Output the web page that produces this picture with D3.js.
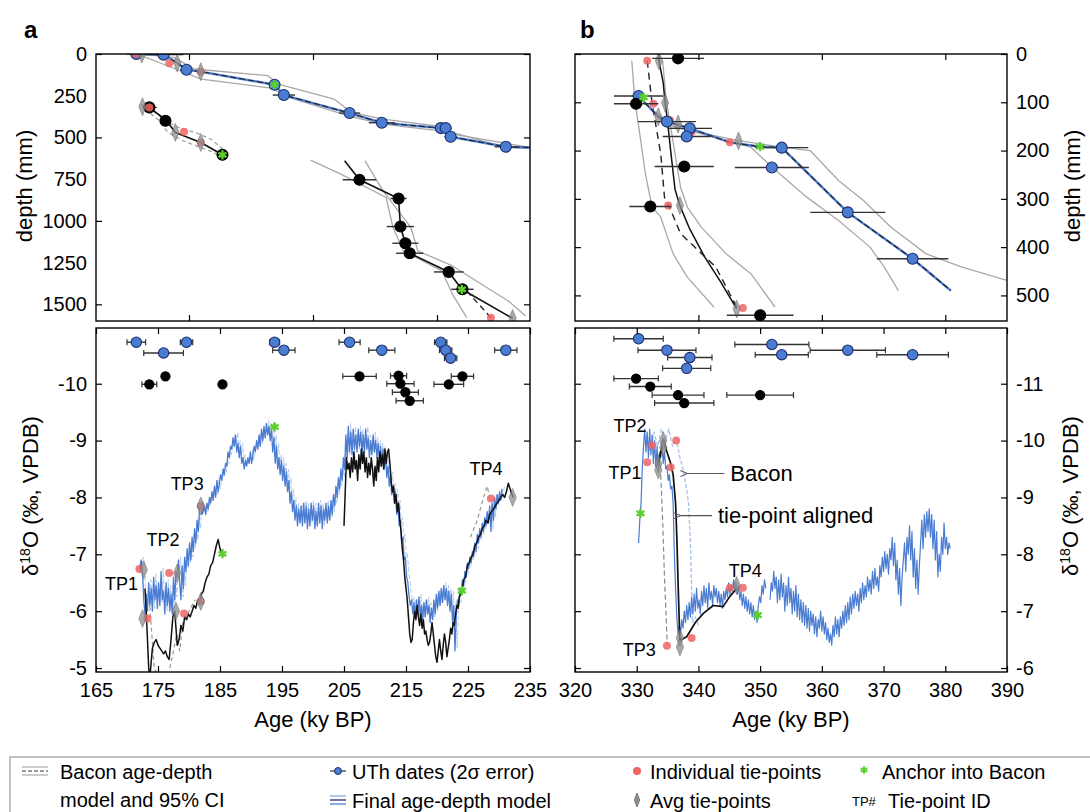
<!DOCTYPE html>
<html><head><meta charset="utf-8">
<script src="https://cdn.jsdelivr.net/npm/d3@7"></script>
<style>
body{margin:0;background:#fff;}
svg{display:block;font-family:"Liberation Sans",Arial,Helvetica,sans-serif;}
</style></head><body>
<svg id="chart" width="1090" height="812"></svg>
<script>
// ---------------- axis ticks ----------------
const ageTicksA = [165,175,185,195,205,215,225,235];
const ageTicksB = [320,330,340,350,360,370,380,390];
const ageMinorA = [180,200,220];
const ageMinorB = [340,360,380];
const depthLabelsA = [0,250,500,750,1000,1250,1500];
const depthMarksA = [0,500,1000,1500];
const depthTicksB = [0,100,200,300,400,500];
const isoTicksA = [-10,-9,-8,-7,-6,-5];
const isoTicksB = [-11,-10,-9,-8,-7,-6];

// ---------------- U-Th dates: [age, 2σ, depth, plotting row] ----------------
const uthBlueA = [[171.5,1.5,0,-10.73],[175.9,3.2,4,-10.54],[179.6,1.0,94,-10.73],[193.8,0.8,184,-10.73],[195.3,1.8,246,-10.59],[205.9,1.7,354,-10.73],[211.1,2.1,412,-10.59],[220.6,1.0,444,-10.73],[221.4,1.0,444,-10.59],[222.2,1.0,496,-10.45],[231.1,1.8,556,-10.59]];
const uthBlackA = [[173.6,1.2,320,-9.99],[176.2,0.3,400,-10.13],[185.4,0.2,604,-9.99],[207.5,2.7,754,-10.13],[213.8,1.3,866,-10.14],[214.1,2.2,1034,-10.0],[214.9,2.1,1134,-9.85],[215.6,2.2,1194,-9.70],[221.9,2.4,1306,-9.99],[224.1,1.8,1410,-10.13]];
const uthBlueB = [[330.3,4.0,87,-11.79],[334.9,4.7,140,-11.59],[338.6,3.6,154,-11.46],[338.1,3.9,171,-11.27],[351.9,6.0,235,-11.69],[353.5,4.3,194,-11.51],[364.2,6.1,328,-11.59],[374.7,5.8,424,-11.51]];
const uthBlackB = [[336.7,4.2,9,-10.80],[329.9,3.6,103,-11.09],[337.7,4.8,233,-10.66],[332.2,3.4,316,-10.95],[350.0,5.4,541,-10.80]];

// ---------------- tie-points and anchors ----------------
const tieRedA_depth = [[171.5,0],[176.8,56],[181.9,106],[173.6,320],[179.2,466],[181.9,530],[228.7,1580]];
const tieAvgA_depth = [[172.4,0],[178.1,54],[181.9,106],[172.5,316],[177.8,470],[181.9,530],[232.2,1584]];
const anchorA_depth = [[193.8,184],[185.4,604],[224.0,1410]];
const tieRedA_iso = [[172.0,-6.74],[173.3,-5.87],[176.8,-6.67],[179.2,-5.96],[181.9,-7.85],[181.9,-6.17],[228.7,-7.98]];
const tieAvgA_iso = [[172.7,-6.73],[172.5,-5.87],[178.1,-6.67],[177.9,-6.0],[181.9,-7.85],[181.9,-6.17],[232.2,-8.0]];
const anchorA_iso = [[193.8,-9.24],[185.4,-7.01],[224.0,-6.36]];

const tieRedB_depth = [[331.7,14],[332.7,103],[335.4,137],[338.9,161],[345.1,183],[335.1,314],[347.2,526]];
const tieAvgB_depth = [[333.6,14],[334.6,101],[333.5,130],[336.7,145],[346.5,180],[337.0,314],[346.2,528]];
const anchorB_depth = [[331.1,90],[350.0,192]];
const tieRedB_iso = [[332.5,-9.92],[336.4,-10.0],[331.7,-9.62],[335.5,-9.53],[334.9,-6.39],[338.9,-6.53],[345.1,-7.41],[347.2,-7.41]];
const tieAvgB_iso = [[334.3,-10.0],[334.3,-9.88],[333.5,-9.59],[333.5,-9.48],[337.0,-6.53],[337.0,-6.37],[346.2,-7.45]];
const anchorB_iso = [[330.6,-8.72],[349.6,-6.93]];

// ---------------- age-depth models (age, depth) ----------------
const modelA_upper = [[171.5,0],[175.9,4],[178.1,54],[179.6,94],[181.9,106],[193.8,184],[195.3,246],[205.9,354],[211.1,412],[220.6,444],[222.2,496],[231.1,556],[235,560]];
const ciA_upper1 = [[172.4,0],[177.5,20],[180.9,90],[192.7,130],[194.4,180],[203.4,270],[206.2,350],[211.3,390],[220.8,436],[222.5,480],[235,560]];
const ciA_upper2 = [[171.0,0],[173.0,20],[175.8,60],[182.0,150],[193.2,204],[196.1,260],[205.6,370],[211.3,420],[222.5,470],[230.9,560],[235,566]];
const modelA_mid = [[172.9,308],[173.6,320],[176.4,400],[177.8,470],[181.9,530],[185.4,604]];
const ciA_mid1 = [[172.2,300],[174.6,352],[176.6,410],[178.6,445],[181.0,470],[183.5,510],[185.2,560],[186.2,600]];
const ciA_mid2 = [[172.9,330],[175.0,392],[176.6,470],[179.0,520],[181.5,555],[184.0,590],[185.6,625]];
const modelA_low = [[205.1,640],[207.5,754],[213.8,866],[214.1,1034],[214.9,1134],[215.6,1194],[221.9,1306],[224.0,1410],[232.2,1584]];
const ciA_low1 = [[199.6,636],[204.5,720],[211.8,860],[212.9,1040],[214.6,1180],[220.8,1300],[222.5,1440],[224.8,1580]];
const ciA_low2 = [[208.4,640],[211.3,820],[215.8,1040],[216.9,1180],[222.5,1270],[231.5,1480],[234.3,1570]];
const baconA_low = [[224.8,1420],[226.5,1490],[228.7,1580]];

const alignedB = [[333.6,0],[333.6,14],[334.3,60],[334.6,101],[335.0,140],[335.5,200],[336.2,280],[337.0,314],[338.5,360],[341.0,420],[343.5,470],[346.2,528]];
const baconB = [[331.7,14],[332.5,103],[333.9,207],[334.5,297],[335.3,317],[337.1,372],[342.8,441],[346.2,524]];
const ciB1 = [[329.2,14],[329.7,97],[330.5,166],[331.4,248],[332.5,317],[333.9,338],[335.9,414],[338.2,462],[342.5,524]];
const ciB2 = [[334.2,14],[334.8,97],[337.1,276],[338.2,317],[340.5,359],[344.5,414],[348.5,455],[352.4,524]];
const modelB_upper = [[330.3,87],[333.5,130],[334.9,140],[338.6,154],[345.1,183],[350.0,192],[353.5,194],[364.2,328],[374.7,424],[380.9,490]];
const ciB_upper1 = [[334.8,148],[346.2,179],[353.6,193],[358.1,200],[362.7,262],[366.7,303],[371.2,359],[376.9,414],[382.6,441],[390,469]];
const ciB_upper2 = [[331.0,100],[336.0,150],[348.5,193],[351.9,234],[357.6,297],[362.7,345],[367.8,400],[370.1,441],[372.4,490]];

// ---------------- δ18O records (age, ‰) ----------------
const isoBlueA = [[172.0,-6.75],[172.3,-6.9],[172.5,-6.7],[172.7,-6.2],[172.9,-5.95],[173.1,-6.3],[173.3,-6.0],[173.5,-6.5],[173.7,-6.1],[173.9,-6.4],[174.1,-6.0],[174.3,-6.6],[174.5,-6.2],[174.7,-6.45],[174.9,-6.05],[175.1,-6.5],[175.3,-6.1],[175.5,-6.7],[175.7,-6.2],[175.9,-6.35],[176.1,-5.95],[176.3,-6.5],[176.5,-6.1],[176.7,-6.4],[176.9,-6.0],[177.1,-6.3],[177.3,-5.95],[177.5,-6.6],[177.7,-6.2],[177.9,-6.7],[178.1,-6.6],[178.3,-6.9],[178.5,-6.5],[178.7,-6.2],[178.9,-6.8],[179.1,-6.4],[179.3,-6.95],[179.5,-6.7],[179.7,-7.1],[179.9,-6.8],[180.1,-7.2],[180.3,-6.9],[180.5,-7.3],[180.7,-7.05],[180.9,-7.45],[181.1,-7.2],[181.3,-7.6],[181.5,-7.4],[181.7,-7.8],[181.9,-7.9],[182.1,-7.7],[182.3,-7.75],[182.5,-7.85],[182.7,-7.7],[182.9,-7.9],[183.1,-7.8],[183.3,-8.0],[183.5,-7.9],[183.7,-8.1],[183.9,-7.95],[184.1,-8.2],[184.3,-8.0],[184.5,-8.3],[184.7,-8.1],[184.9,-8.25],[185.1,-8.4],[185.3,-8.3],[185.5,-8.5],[185.7,-8.4],[185.9,-8.6],[186.1,-8.55],[186.3,-8.8],[186.5,-8.7],[186.7,-8.9],[186.9,-8.85],[187.1,-9.05],[187.3,-8.9],[187.5,-9.1],[187.7,-8.8],[187.9,-8.95],[188.1,-8.7],[188.3,-8.9],[188.5,-8.6],[188.7,-8.7],[188.9,-8.5],[189.1,-8.65],[189.3,-8.55],[189.5,-8.7],[189.7,-8.6],[189.9,-8.8],[190.1,-8.6],[190.3,-8.75],[190.5,-8.9],[190.7,-8.8],[190.9,-9.0],[191.1,-8.85],[191.3,-9.1],[191.5,-8.9],[191.7,-9.2],[191.9,-9.0],[192.1,-9.25],[192.3,-9.05],[192.5,-9.3],[192.7,-9.1],[192.9,-9.25],[193.1,-9.0],[193.3,-9.2],[193.5,-8.8],[193.7,-9.05],[193.9,-8.6],[194.1,-8.9],[194.3,-8.5],[194.5,-8.7],[194.7,-8.4],[194.9,-8.65],[195.1,-8.3],[195.3,-8.55],[195.5,-8.2],[195.7,-8.45],[195.9,-8.1],[196.1,-8.3],[196.3,-7.9],[196.5,-8.1],[196.7,-7.75],[196.9,-7.95],[197.1,-7.6],[197.3,-7.85],[197.5,-7.5],[197.7,-7.8],[197.9,-7.55],[198.1,-7.85],[198.3,-7.5],[198.5,-7.9],[198.7,-7.55],[198.9,-7.85],[199.1,-7.45],[199.3,-7.8],[199.5,-7.5],[199.7,-7.9],[199.9,-7.6],[200.1,-7.85],[200.3,-7.45],[200.5,-7.75],[200.7,-7.5],[200.9,-7.9],[201.1,-7.55],[201.3,-7.85],[201.5,-7.45],[201.7,-7.8],[201.9,-7.6],[202.1,-7.9],[202.3,-7.55],[202.5,-7.85],[202.7,-7.6],[202.9,-7.95],[203.1,-7.7],[203.3,-8.05],[203.5,-7.85],[203.7,-8.2],[203.9,-8.0],[204.1,-8.35],[204.3,-8.15],[204.5,-8.5],[204.7,-8.3],[204.9,-8.7],[205.1,-8.5],[205.3,-9.1],[205.5,-8.7],[205.7,-9.25],[205.9,-8.8],[206.1,-9.15],[206.3,-8.75],[206.5,-9.2],[206.7,-8.85],[206.9,-9.1],[207.1,-8.8],[207.3,-9.2],[207.5,-8.9],[207.7,-9.15],[207.9,-8.75],[208.1,-9.1],[208.3,-8.8],[208.5,-9.2],[208.7,-8.85],[208.9,-9.05],[209.1,-8.7],[209.3,-9.0],[209.5,-8.75],[209.7,-9.1],[209.9,-8.8],[210.1,-9.0],[210.3,-8.7],[210.5,-8.95],[210.7,-8.65],[210.9,-8.9],[211.1,-8.6],[211.3,-8.85],[211.5,-8.5],[211.7,-8.75],[211.9,-8.35],[212.1,-8.55],[212.3,-8.2],[212.5,-8.4],[212.7,-8.05],[212.9,-8.2],[213.1,-7.9],[213.3,-8.1],[213.5,-7.7],[213.7,-7.9],[213.9,-7.5],[214.1,-7.6],[214.3,-7.2],[214.5,-7.3],[214.7,-6.9],[214.9,-6.95],[215.1,-6.6],[215.3,-6.5],[215.5,-6.25],[215.7,-6.1],[215.9,-6.2],[216.1,-5.95],[216.3,-6.15],[216.5,-5.9],[216.7,-6.2],[216.9,-5.95],[217.1,-6.25],[217.3,-5.9],[217.5,-6.1],[217.7,-5.85],[217.9,-6.15],[218.1,-5.9],[218.3,-6.2],[218.5,-5.95],[218.7,-6.1],[218.9,-5.8],[219.1,-6.05],[219.3,-5.85],[219.5,-6.2],[219.7,-5.95],[219.9,-6.3],[220.1,-6.05],[220.3,-6.35],[220.5,-6.1],[220.7,-6.4],[220.9,-6.15],[221.1,-6.45],[221.3,-6.2],[221.5,-6.4],[221.7,-6.1],[221.9,-6.35],[222.1,-6.0],[222.3,-6.3],[222.5,-5.8],[222.7,-6.1],[222.9,-5.3],[223.1,-5.9],[223.3,-6.2],[223.5,-6.1],[223.7,-6.4],[223.9,-6.3],[224.1,-6.55],[224.3,-6.45],[224.5,-6.7],[224.7,-6.6],[224.9,-6.85],[225.1,-6.75],[225.3,-6.95],[225.5,-6.85],[225.7,-7.05],[225.9,-6.95],[226.1,-7.2],[226.3,-7.05],[226.5,-7.35],[226.7,-7.2],[226.9,-7.45],[227.1,-7.3],[227.3,-7.55],[227.5,-7.4],[227.7,-7.65],[227.9,-7.5],[228.1,-7.75],[228.3,-7.55],[228.5,-7.85],[228.7,-7.4],[228.9,-7.9],[229.1,-7.6],[229.3,-8.0],[229.5,-7.8],[229.7,-8.05],[229.9,-7.9],[230.1,-8.1],[230.3,-7.95],[230.5,-8.15]];

const isoBlackA1 = [[172.9,-6.4],[173.1,-6.0],[173.3,-5.5],[173.5,-5.0],[173.7,-4.85],[173.9,-5.1],[174.1,-5.35],[174.4,-5.45],[174.7,-5.5],[175.0,-5.4],[175.3,-5.35],[175.6,-5.3],[175.9,-5.25],[176.2,-5.3],[176.5,-5.2],[176.8,-5.15],[177.1,-5.5],[177.4,-5.9],[177.7,-6.0],[177.9,-5.7],[178.1,-5.4],[178.4,-5.5],[178.7,-5.75],[179.0,-5.65],[179.3,-5.9],[179.6,-5.85],[179.9,-5.95],[180.2,-5.9],[180.5,-6.0],[180.8,-6.1],[181.1,-6.05],[181.4,-6.2],[181.7,-6.15],[182.0,-6.3],[182.3,-6.35],[182.6,-6.5],[182.9,-6.6],[183.2,-6.65],[183.5,-6.8],[183.8,-6.85],[184.1,-7.0],[184.4,-7.15],[184.7,-7.26],[185.0,-7.1],[185.4,-7.0]];
const isoBlackA2 = [[205.0,-7.5],[205.2,-8.1],[205.4,-8.7],[205.6,-8.5],[205.8,-8.6],[206.0,-8.35],[206.2,-8.7],[206.4,-8.45],[206.6,-8.8],[206.8,-8.5],[207.0,-8.65],[207.2,-8.3],[207.4,-8.75],[207.6,-8.5],[207.8,-8.85],[208.0,-8.6],[208.2,-8.8],[208.4,-8.45],[208.6,-8.7],[208.8,-8.35],[209.0,-8.6],[209.2,-8.4],[209.4,-8.7],[209.6,-8.5],[209.8,-8.2],[210.0,-8.55],[210.2,-8.3],[210.4,-8.7],[210.6,-8.45],[210.8,-8.8],[211.0,-8.55],[211.2,-8.75],[211.4,-8.5],[211.6,-8.85],[211.8,-8.6],[212.0,-8.8],[212.2,-8.85],[212.4,-8.6],[212.6,-8.3],[212.8,-8.1],[213.0,-8.2],[213.2,-7.9],[213.4,-8.05],[213.6,-7.75],[213.8,-7.9],[214.0,-7.6],[214.2,-7.4],[214.4,-7.1],[214.6,-6.9],[214.8,-6.6],[215.0,-6.4],[215.2,-6.2],[215.4,-5.9],[215.6,-5.6],[215.8,-5.45],[216.0,-5.5],[216.2,-5.8],[216.4,-6.0],[216.6,-5.85],[216.8,-6.1],[217.0,-5.9],[217.2,-5.75],[217.4,-5.95],[217.6,-5.7],[217.8,-5.85],[218.0,-5.6],[218.2,-5.65],[218.4,-5.5],[218.6,-5.4],[218.8,-5.45],[219.0,-5.6],[219.2,-5.8],[219.4,-5.6],[219.6,-5.4],[219.8,-5.2],[220.0,-5.1],[220.2,-5.3],[220.4,-5.5],[220.6,-5.3],[220.8,-5.15],[221.0,-5.4],[221.2,-5.6],[221.4,-5.45],[221.6,-5.2],[221.8,-5.35],[222.0,-5.5],[222.2,-5.7],[222.4,-5.6],[222.6,-5.8],[222.8,-5.75],[223.0,-5.95],[223.2,-6.1],[223.4,-6.05],[223.6,-6.25],[223.8,-6.3],[224.0,-6.35],[224.3,-6.55],[224.6,-6.6],[224.9,-6.8],[225.2,-6.85],[225.5,-6.95],[225.8,-7.0],[226.1,-7.15],[226.4,-7.2],[226.7,-7.3],[227.0,-7.35],[227.3,-7.45],[227.6,-7.5],[227.9,-7.6],[228.2,-7.55],[228.5,-7.7],[228.8,-7.75],[229.1,-7.8],[229.4,-7.85],[229.7,-7.9],[230.0,-7.95],[230.3,-8.0],[230.6,-8.05],[230.9,-8.0],[231.2,-8.1],[231.5,-8.25],[231.8,-8.15],[232.1,-8.05],[232.3,-8.0]];
const baconIsoA1 = [[173.6,-6.2],[174.0,-5.6],[174.4,-5.0],[174.8,-4.9]];
const baconIsoA2 = [[176.9,-5.0],[177.5,-5.3],[178.0,-5.6],[178.5,-5.3],[179.0,-5.8],[180.0,-6.0],[181.0,-6.2]];
const baconIsoA3 = [[225.4,-7.3],[226.5,-7.6],[227.5,-8.0],[228.1,-8.2],[228.4,-8.05]];

const isoBlueB = [[330.3,-8.2],[330.5,-8.6],[330.7,-8.9],[330.9,-9.5],[331.1,-9.9],[331.3,-10.2],[331.5,-9.8],[331.7,-10.15],[331.9,-9.7],[332.1,-10.2],[332.3,-9.75],[332.5,-10.1],[332.7,-9.6],[332.9,-10.0],[333.1,-9.55],[333.3,-9.9],[333.5,-9.45],[333.7,-9.8],[333.9,-9.7],[334.1,-9.9],[334.3,-9.6],[334.5,-9.8],[334.7,-9.5],[334.9,-9.55],[335.1,-9.3],[335.3,-9.4],[335.5,-9.15],[335.7,-9.2],[335.9,-8.9],[336.1,-8.0],[336.3,-7.4],[336.5,-6.9],[336.7,-6.6],[336.9,-6.75],[337.1,-6.6],[337.3,-6.85],[337.5,-6.7],[337.7,-7.0],[337.9,-6.8],[338.1,-7.1],[338.3,-6.85],[338.5,-7.15],[338.7,-6.9],[338.9,-7.25],[339.1,-6.95],[339.3,-7.3],[339.5,-7.0],[339.7,-7.4],[339.9,-7.05],[340.1,-7.2],[340.3,-6.95],[340.5,-7.35],[340.7,-7.1],[340.9,-7.45],[341.1,-7.15],[341.3,-7.4],[341.5,-7.05],[341.7,-7.5],[341.9,-7.2],[342.1,-7.35],[342.3,-7.1],[342.5,-7.45],[342.7,-7.25],[342.9,-7.4],[343.1,-7.15],[343.3,-7.35],[343.5,-7.1],[343.7,-7.3],[343.9,-7.05],[344.1,-7.35],[344.3,-7.2],[344.5,-7.4],[344.7,-7.25],[344.9,-7.5],[345.1,-7.3],[345.3,-7.45],[345.5,-7.35],[345.7,-7.55],[345.9,-7.4],[346.1,-7.5],[346.3,-7.3],[346.5,-7.45],[346.7,-7.2],[346.9,-7.35],[347.1,-7.1],[347.3,-7.3],[347.5,-7.05],[347.7,-7.25],[347.9,-7.0],[348.1,-7.2],[348.3,-6.95],[348.5,-7.15],[348.7,-6.9],[348.9,-7.1],[349.1,-6.85],[349.3,-7.0],[349.5,-6.8],[349.7,-7.1],[349.9,-7.25],[350.1,-7.15],[350.3,-7.45],[350.5,-7.3],[350.7,-7.55],[350.9,-7.4]];
const isoBlueB2 = [[351.6,-7.2],[351.8,-7.5],[352.0,-7.35],[352.2,-7.7],[352.4,-7.4],[352.6,-7.6],[352.8,-7.15],[353.0,-7.55],[353.2,-7.2],[353.4,-7.65],[353.6,-7.25],[353.8,-7.5],[354.0,-7.0],[354.2,-7.45],[354.4,-7.1],[354.6,-7.6],[354.8,-7.15],[355.0,-7.4],[355.2,-6.95],[355.4,-7.35],[355.6,-7.0],[355.8,-7.45],[356.0,-6.9],[356.2,-7.3],[356.4,-6.85],[356.6,-7.2],[356.8,-6.8],[357.0,-7.15],[357.2,-6.75],[357.4,-7.1],[357.6,-6.7],[357.8,-7.05],[358.0,-6.65],[358.2,-7.0],[358.4,-6.75],[358.6,-6.95],[358.8,-6.6],[359.0,-6.9],[359.2,-6.55],[359.4,-6.85],[359.6,-6.7],[359.8,-7.0],[360.0,-6.65],[360.2,-6.9],[360.4,-6.6],[360.6,-6.8],[360.8,-6.5],[361.0,-6.7],[361.2,-6.45],[361.4,-6.6],[361.6,-6.4],[361.8,-6.75],[362.0,-6.55],[362.2,-6.9],[362.4,-6.6],[362.6,-6.85],[362.8,-6.55],[363.0,-6.9],[363.2,-6.7],[363.4,-7.0],[363.6,-6.75],[363.8,-7.1],[364.0,-6.8],[364.2,-7.15],[364.4,-6.85],[364.6,-7.25],[364.8,-6.95],[365.0,-7.3],[365.2,-7.05],[365.4,-7.35],[365.6,-7.1],[365.8,-7.3],[366.0,-7.0],[366.2,-7.4],[366.4,-7.15],[366.6,-7.5],[366.8,-7.2],[367.0,-7.45],[367.2,-7.25],[367.4,-7.6],[367.6,-7.35],[367.8,-7.55],[368.0,-7.3],[368.2,-7.7],[368.4,-7.4],[368.6,-7.75],[368.8,-7.45],[369.0,-7.6],[369.2,-7.35],[369.4,-7.8],[369.6,-7.6],[369.8,-7.95],[370.0,-7.7],[370.2,-8.05],[370.4,-7.75],[370.6,-8.0],[370.8,-7.65],[371.0,-8.1],[371.2,-7.9],[371.4,-8.3],[371.6,-7.8],[371.8,-8.2],[372.0,-7.55],[372.2,-7.9],[372.4,-7.3],[372.6,-7.75],[372.8,-7.1],[373.0,-7.6],[373.2,-7.9],[373.4,-8.2],[373.6,-7.7],[373.8,-8.3],[374.0,-8.0],[374.2,-8.5],[374.4,-7.9],[374.6,-8.4],[374.8,-7.6],[375.0,-8.1],[375.2,-7.4],[375.4,-7.9],[375.6,-7.3],[375.8,-7.8],[376.0,-8.2],[376.2,-8.6],[376.4,-8.1],[376.6,-8.7],[376.8,-8.3],[377.0,-8.75],[377.2,-8.4],[377.4,-8.8],[377.6,-8.3],[377.8,-8.7],[378.0,-8.1],[378.2,-8.6],[378.4,-7.9],[378.6,-8.4],[378.8,-7.6],[379.0,-8.0],[379.2,-7.7],[379.4,-8.3],[379.6,-8.0],[379.8,-8.55],[380.0,-8.1],[380.2,-8.3],[380.4,-8.0],[380.6,-8.2],[380.8,-8.1]];
const isoAlignedB = [[333.5,-9.59],[333.9,-9.8],[334.3,-10.0],[334.9,-9.8],[335.5,-9.6],[335.9,-9.4],[336.3,-8.9],[336.5,-8.3],[336.7,-7.5],[336.9,-6.8],[337.0,-6.49],[338.1,-6.55],[339.5,-6.8],[340.8,-6.96],[342.4,-7.1],[344.0,-7.08],[345.1,-7.26],[346.2,-7.4]];
const baconIsoB_blue = [[331.6,-10.1],[332.2,-9.8],[332.8,-10.15],[333.4,-9.9],[334.0,-10.2],[334.6,-10.0],[335.2,-10.2],[335.8,-9.9],[336.4,-10.05],[337.0,-9.7],[337.5,-9.5],[338.0,-9.2],[338.4,-8.9],[338.7,-8.2],[338.9,-7.4],[339.0,-6.8],[339.5,-6.9],[340.0,-6.75]];
const baconIsoB_gray = [[333.9,-9.4],[334.2,-8.6],[334.5,-7.6],[334.8,-6.8],[334.95,-6.4]];

// ---------------- labels ----------------
const tpLabelsA = [["TP1",169.1,-6.49],["TP2",175.8,-7.26],["TP3",179.7,-8.24],["TP4",227.9,-8.5]];
const tpLabelsB = [["TP2",328.9,-10.27],["TP1",328.1,-9.44],["TP3",330.4,-6.33],["TP4",347.6,-7.72]];

// ---------------- layout ----------------
const svg = d3.select("#chart");
const topY = [54, 321], botY = [328, 672];
const colA = [96, 530], colB = [575, 1007];

const xA = d3.scaleLinear().domain([165,235]).range(colA);
const xB = d3.scaleLinear().domain([320,390]).range(colB);
const yDA = d3.scaleLinear().domain([0,1600]).range(topY);
const yDB = d3.scaleLinear().domain([0,553]).range(topY);
const yIA = d3.scaleLinear().domain([-10.98,-4.93]).range(botY);
const yIB = d3.scaleLinear().domain([-11.98,-5.93]).range(botY);

const C = {
  blue: "#4a7cd2", blueEdge: "#1c2f6e", blueLight: "#a9c0ec",
  black: "#111", gray: "#a8a8a8", red: "#f06464", green: "#5ccf2e",
  diamond: "#8e8e8e"
};
const FS = 20;      // tick labels
const FT = 22;      // axis titles

const defs = svg.append("defs");
function clip(id, x, y) {
  defs.append("clipPath").attr("id", id).append("rect")
    .attr("x", x.range()[0]).attr("y", y.range()[0])
    .attr("width", x.range()[1]-x.range()[0]).attr("height", y.range()[1]-y.range()[0]);
}
clip("cAT", xA, yDA); clip("cAB", xA, yIA); clip("cBT", xB, yDB); clip("cBB", xB, yIB);
const marker = defs.append("marker").attr("id","arrow").attr("viewBox","0 0 10 10")
  .attr("refX",1).attr("refY",5).attr("markerWidth",7).attr("markerHeight",7).attr("orient","auto-start-reverse");
marker.append("path").attr("d","M10,1 L1,5 L10,9").attr("fill","none").attr("stroke","#555").attr("stroke-width",1.3);

const fmt = d => String(d);

function styleAxis(g) {
  g.select(".domain").remove();
  g.selectAll(".tick line").attr("stroke", "#000").attr("stroke-width", 1.2);
  g.selectAll(".tick text").attr("font-size", FS).attr("fill", "#000")
    .attr("font-family", "Liberation Sans, Arial, sans-serif");
}

function panelAxes(x, y, opts) {
  const [x0, x1] = x.range(), [y0, y1] = y.range();
  const g = svg.append("g");
  // top/bottom x ticks (inward)
  g.append("g").attr("transform", `translate(0,${y0})`)
    .call(d3.axisTop(x).tickValues(opts.xTicks).tickSize(-6).tickFormat("")).call(styleAxis);
  g.append("g").attr("transform", `translate(0,${y1})`)
    .call(d3.axisBottom(x).tickValues(opts.xTicks).tickSize(-6).tickPadding(11)
      .tickFormat(opts.xLabels ? fmt : "")).call(styleAxis);
  // left/right y tick marks
  g.append("g").attr("transform", `translate(${x0},0)`)
    .call(d3.axisLeft(y).tickValues(opts.yMarks).tickSize(-6).tickFormat("")).call(styleAxis);
  g.append("g").attr("transform", `translate(${x1},0)`)
    .call(d3.axisRight(y).tickValues(opts.yMarks).tickSize(-6).tickFormat("")).call(styleAxis);
  // y labels
  if (opts.yLabelSide === "left") {
    g.append("g").attr("transform", `translate(${x0},0)`)
      .call(d3.axisLeft(y).tickValues(opts.yLabels).tickSize(0).tickPadding(9).tickFormat(fmt)).call(styleAxis);
  } else if (opts.yLabelSide === "right") {
    g.append("g").attr("transform", `translate(${x1},0)`)
      .call(d3.axisRight(y).tickValues(opts.yLabels).tickSize(0).tickPadding(9).tickFormat(fmt)).call(styleAxis);
  }
  g.append("rect").attr("x", x0).attr("y", y0).attr("width", x1-x0).attr("height", y1-y0)
    .attr("fill", "none").attr("stroke", "#000").attr("stroke-width", 1.4);
}

function drawLine(g, data, x, y, stroke, width, dash, opacity) {
  g.append("path").datum(data)
    .attr("d", d3.line().x(d => x(d[0])).y(d => y(d[1])))
    .attr("fill", "none").attr("stroke", stroke).attr("stroke-width", width)
    .attr("stroke-dasharray", dash || null).attr("stroke-linejoin", "round")
    .attr("opacity", opacity == null ? 1 : opacity);
}
function redDots(g, data, x, y) {
  g.selectAll(null).data(data).join("circle")
    .attr("cx", d => x(d[0])).attr("cy", d => y(d[1])).attr("r", 4)
    .attr("fill", C.red).attr("opacity", 0.85);
}
function diamonds(g, data, x, y) {
  g.selectAll(null).data(data).join("path")
    .attr("d", d3.symbol(d3.symbolDiamond, 70))
    .attr("transform", d => `translate(${x(d[0])},${y(d[1])}) scale(0.8,1.15)`)
    .attr("fill", C.diamond).attr("stroke", "#666").attr("stroke-width", 0.8).attr("opacity", 0.75);
}
function stars(g, data, x, y) {
  g.selectAll(null).data(data).join("path")
    .attr("d", d3.symbol(d3.symbolAsterisk, 60))
    .attr("transform", d => `translate(${x(d[0])},${y(d[1])})`)
    .attr("fill", "none").attr("stroke", C.green).attr("stroke-width", 2.4);
}
function uth(g, data, x, yv, fill, edge, r, caps) {
  const gg = g.append("g");
  gg.selectAll(null).data(data).join("line")
    .attr("x1", d => x(d.age - d.err)).attr("x2", d => x(d.age + d.err))
    .attr("y1", d => yv(d)).attr("y2", d => yv(d))
    .attr("stroke", "#333").attr("stroke-width", 1.4);
  if (caps) {
    gg.selectAll(null).data(data.flatMap(d => [[d.age - d.err, yv(d)], [d.age + d.err, yv(d)]])).join("line")
      .attr("x1", d => x(d[0])).attr("x2", d => x(d[0]))
      .attr("y1", d => d[1] - 3).attr("y2", d => d[1] + 3)
      .attr("stroke", "#333").attr("stroke-width", 1.2);
  }
  gg.selectAll(null).data(data).join("circle")
    .attr("cx", d => x(d.age)).attr("cy", d => yv(d)).attr("r", r)
    .attr("fill", fill).attr("stroke", edge).attr("stroke-width", 1.1);
}
const asObj = arr => arr.map(d => ({age: d[0], err: d[1], depth: d[2], row: d[3]}));

// ================= Panel a, age-depth =================
{
  const g = svg.append("g").attr("clip-path", "url(#cAT)");
  [ciA_upper1, ciA_upper2, ciA_low1, ciA_low2].forEach(d => drawLine(g, d, xA, yDA, C.gray, 1.3));
  drawLine(g, ciA_mid1, xA, yDA, "#999", 1.2, "4,3");
  drawLine(g, ciA_mid2, xA, yDA, "#999", 1.2, "4,3");
  drawLine(g, modelA_upper, xA, yDA, C.blue, 2.4);
  drawLine(g, modelA_upper, xA, yDA, "#222", 1.1, "6,3");
  drawLine(g, modelA_mid, xA, yDA, C.black, 1.6);
  drawLine(g, modelA_low, xA, yDA, C.black, 1.6);
  drawLine(g, baconA_low, xA, yDA, "#222", 1.4, "6,4");
  uth(g, asObj(uthBlueA), xA, d => yDA(d.depth), C.blue, C.blueEdge, 5.5, false);
  uth(g, asObj(uthBlackA), xA, d => yDA(d.depth), "#000", "#000", 5.5, false);
  redDots(g, tieRedA_depth, xA, yDA);
  diamonds(g, tieAvgA_depth, xA, yDA);
  stars(g, anchorA_depth, xA, yDA);
}
panelAxes(xA, yDA, {xTicks: ageMinorA, xLabels: false, yMarks: depthMarksA, yLabels: depthLabelsA, yLabelSide: "left"});

// ================= Panel a, δ18O =================
{
  const g = svg.append("g").attr("clip-path", "url(#cAB)");
  [baconIsoA1, baconIsoA2, baconIsoA3].forEach(d => drawLine(g, d, xA, yIA, "#999", 1.2, "4,3"));
  drawLine(g, isoBlueA.map(d => [d[0] + 0.35, d[1] - 0.05]), xA, yIA, C.blueLight, 1.0, "5,2", 0.8);
  drawLine(g, isoBlueA, xA, yIA, C.blue, 1.3);
  drawLine(g, isoBlackA1, xA, yIA, C.black, 1.5);
  drawLine(g, isoBlackA2, xA, yIA, C.black, 1.5);
  redDots(g, tieRedA_iso, xA, yIA);
  diamonds(g, tieAvgA_iso, xA, yIA);
  stars(g, anchorA_iso, xA, yIA);
  uth(g, asObj(uthBlueA), xA, d => yIA(d.row), C.blue, C.blueEdge, 5.2, true);
  uth(g, asObj(uthBlackA), xA, d => yIA(d.row), "#000", "#000", 4.6, true);
  g.selectAll(null).data(tpLabelsA).join("text")
    .attr("x", d => xA(d[1])).attr("y", d => yIA(d[2])).attr("dy", "0.35em")
    .attr("text-anchor", "middle").attr("font-size", 18).text(d => d[0]);
}
panelAxes(xA, yIA, {xTicks: ageTicksA, xLabels: true, yMarks: isoTicksA, yLabels: isoTicksA, yLabelSide: "left"});

// ================= Panel b, age-depth =================
{
  const g = svg.append("g").attr("clip-path", "url(#cBT)");
  [ciB1, ciB2, ciB_upper1, ciB_upper2].forEach(d => drawLine(g, d, xB, yDB, C.gray, 1.3));
  drawLine(g, baconB, xB, yDB, "#222", 1.4, "7,5");
  drawLine(g, alignedB, xB, yDB, C.black, 1.5);
  drawLine(g, modelB_upper, xB, yDB, C.blue, 2.4);
  drawLine(g, modelB_upper, xB, yDB, "#222", 1.1, "6,3");
  redDots(g, tieRedB_depth, xB, yDB);
  diamonds(g, tieAvgB_depth, xB, yDB);
  uth(g, asObj(uthBlueB), xB, d => yDB(d.depth), C.blue, C.blueEdge, 5.5, false);
  uth(g, asObj(uthBlackB), xB, d => yDB(d.depth), "#000", "#000", 5.5, false);
  stars(g, anchorB_depth, xB, yDB);
}
panelAxes(xB, yDB, {xTicks: ageMinorB, xLabels: false, yMarks: depthTicksB, yLabels: depthTicksB, yLabelSide: "right"});

// ================= Panel b, δ18O =================
{
  const g = svg.append("g").attr("clip-path", "url(#cBB)");
  drawLine(g, baconIsoB_blue, xB, yIB, C.blueLight, 1.3, "4,2");
  drawLine(g, baconIsoB_gray, xB, yIB, "#888", 1.2, "5,3");
  drawLine(g, isoBlueB, xB, yIB, C.blue, 1.2);
  drawLine(g, isoBlueB2, xB, yIB, C.blue, 1.2);
  drawLine(g, isoAlignedB, xB, yIB, C.black, 1.7);
  redDots(g, tieRedB_iso, xB, yIB);
  diamonds(g, tieAvgB_iso, xB, yIB);
  stars(g, anchorB_iso, xB, yIB);
  uth(g, asObj(uthBlueB), xB, d => yIB(d.row), C.blue, C.blueEdge, 5.2, true);
  uth(g, asObj(uthBlackB), xB, d => yIB(d.row), "#000", "#000", 4.6, true);
  g.selectAll(null).data(tpLabelsB).join("text")
    .attr("x", d => xB(d[1])).attr("y", d => yIB(d[2])).attr("dy", "0.35em")
    .attr("text-anchor", "middle").attr("font-size", 18).text(d => d[0]);
  // curve annotations
  const notes = [["Bacon", 338.2, 344.2, -9.42], ["tie-point aligned", 337.1, 342.2, -8.68]];
  notes.forEach(([t, a0, a1, v]) => {
    g.append("line").attr("x1", xB(a1)).attr("x2", xB(a0)).attr("y1", yIB(v)).attr("y2", yIB(v))
      .attr("stroke", "#555").attr("stroke-width", 1.1).attr("marker-end", "url(#arrow)");
    g.append("text").attr("x", xB(a1) + 6).attr("y", yIB(v)).attr("dy", "0.35em")
      .attr("font-size", 22).text(t);
  });
}
panelAxes(xB, yIB, {xTicks: ageTicksB, xLabels: true, yMarks: isoTicksB, yLabels: isoTicksB, yLabelSide: "right"});

// ================= titles and axis labels =================
svg.append("text").attr("x", 24).attr("y", 38).attr("font-size", 24).attr("font-weight", "bold").text("a");
svg.append("text").attr("x", 580).attr("y", 38).attr("font-size", 24).attr("font-weight", "bold").text("b");

function vLabel(x, y, build) {
  const t = svg.append("text").attr("transform", `translate(${x},${y}) rotate(-90)`)
    .attr("text-anchor", "middle").attr("font-size", FT);
  build(t);
}
const depthText = t => t.text("depth (mm)");
const isoText = t => {
  t.append("tspan").text("δ");
  t.append("tspan").attr("font-size", 14).attr("dy", -8).text("18");
  t.append("tspan").attr("dy", 8).text("O (‰, VPDB)");
};
vLabel(32, 186, depthText);
vLabel(38, 496, isoText);
vLabel(1080, 186, depthText);
vLabel(1078, 496, isoText);

svg.append("text").attr("x", d3.mean(colA)).attr("y", 727).attr("text-anchor", "middle").attr("font-size", FT).text("Age (ky BP)");
svg.append("text").attr("x", d3.mean(colB)).attr("y", 727).attr("text-anchor", "middle").attr("font-size", FT).text("Age (ky BP)");

// ================= legend =================
{
  const g = svg.append("g").attr("font-size", 20);
  g.append("rect").attr("x", 10).attr("y", 757).attr("width", 1100).attr("height", 80)
    .attr("fill", "#fff").attr("stroke", "#9a9a9a").attr("stroke-width", 1.2);
  // Bacon model icon
  g.append("line").attr("x1", 22).attr("x2", 48).attr("y1", 767).attr("y2", 767).attr("stroke", "#aaa").attr("stroke-width", 1.2);
  g.append("line").attr("x1", 22).attr("x2", 48).attr("y1", 771).attr("y2", 771).attr("stroke", "#333").attr("stroke-width", 1.2).attr("stroke-dasharray", "4,2");
  g.append("line").attr("x1", 22).attr("x2", 48).attr("y1", 775).attr("y2", 775).attr("stroke", "#aaa").attr("stroke-width", 1.2);
  g.append("text").attr("x", 60).attr("y", 779).text("Bacon age-depth");
  g.append("text").attr("x", 60).attr("y", 807).text("model and 95% CI");
  // U-Th icon
  g.append("line").attr("x1", 330).attr("x2", 346).attr("y1", 771).attr("y2", 771).attr("stroke", "#333").attr("stroke-width", 1.2);
  g.append("circle").attr("cx", 338).attr("cy", 771).attr("r", 3.5).attr("fill", C.blue).attr("stroke", C.blueEdge);
  g.append("text").attr("x", 352).attr("y", 779).text("UTh dates (2σ error)");
  // final model icon
  [["#8aa8e4", 796], [C.blueEdge, 800], [C.blue, 804]].forEach(([c, yy]) =>
    g.append("line").attr("x1", 330).attr("x2", 346).attr("y1", yy).attr("y2", yy).attr("stroke", c).attr("stroke-width", 1.3));
  g.append("text").attr("x", 352).attr("y", 808).text("Final age-depth model");
  // tie-points
  g.append("circle").attr("cx", 637).attr("cy", 771).attr("r", 4).attr("fill", C.red);
  g.append("text").attr("x", 650).attr("y", 779).text("Individual tie-points");
  g.append("path").attr("d", d3.symbol(d3.symbolDiamond, 40)).attr("transform", "translate(637,800) scale(0.8,1.2)")
    .attr("fill", C.diamond).attr("stroke", "#666").attr("stroke-width", 0.8);
  g.append("text").attr("x", 650).attr("y", 808).text("Avg tie-points");
  // anchor and ID
  g.append("path").attr("d", d3.symbol(d3.symbolAsterisk, 40)).attr("transform", "translate(864,770)")
    .attr("fill", "none").attr("stroke", C.green).attr("stroke-width", 2);
  g.append("text").attr("x", 882).attr("y", 779).text("Anchor into Bacon");
  g.append("text").attr("x", 852).attr("y", 806).attr("font-size", 13).text("TP#");
  g.append("text").attr("x", 888).attr("y", 808).text("Tie-point ID");
}
</script>
</body></html>
